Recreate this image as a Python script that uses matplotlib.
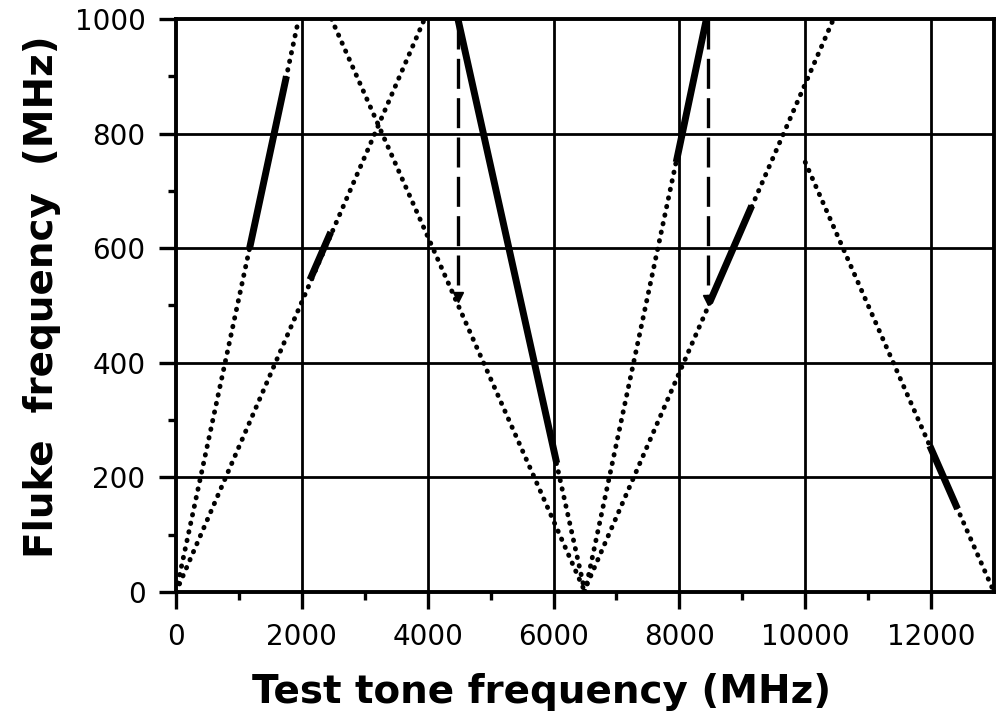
import numpy as np
import matplotlib
matplotlib.use("Agg")
import matplotlib.pyplot as plt

plt.rcParams['font.family'] = ['DejaVu Sans']

# -------------------------------
# Alias lines (dotted): endpoints
# -------------------------------
alias_x = [[0, 1950], [0, 3950], [2470, 6500], [4480, 6500],
           [6500, 8430], [6480, 10450], [10000, 13000]]
alias_y = [[0, 1000], [0, 1000], [1000, 0], [1000, 0],
           [0, 1000], [0, 1000], [750, 0]]

# -------------------------------
# Observed fluke segments (thick)
# -------------------------------
meas_x = [[1170, 1755], [2130, 2460], [4480, 6050],
          [7950, 8430], [8480, 9150], [11980, 12420]]
meas_y = [[600, 900], [545, 628], [1000, 225],
          [750, 1000], [505, 674], [255, 145]]

# -------------------------------
# Jumps (dashed verticals)
# -------------------------------
jump_x = [4480, 8450]
jump_top = [1000, 1000]
jump_bottom = [505, 500]

xticks = [0, 2000, 4000, 6000, 8000, 10000, 12000]
yticks = [0, 200, 400, 600, 800, 1000]

fig = plt.figure(figsize=(9.96, 7.27), dpi=100)
ax = fig.add_axes([0.1767, 0.1857, 0.8213, 0.7883])

# grid
for gx in xticks[1:]:
    ax.axvline(gx, color="black", lw=2.0, zorder=1)
for gy in yticks[1:-1]:
    ax.axhline(gy, color="black", lw=2.0, zorder=1)

for xs, ys in zip(alias_x, alias_y):
    ax.plot(xs, ys, color="black", lw=3.5, linestyle=(0, (0.1, 1.7)),
            dash_capstyle="round", zorder=2)

for xs, ys in zip(meas_x, meas_y):
    ax.plot(xs, ys, color="black", lw=5.0, solid_capstyle="butt", zorder=3)

for jx, jt, jb in zip(jump_x, jump_top, jump_bottom):
    ax.plot([jx, jx], [jt, jb + 12], color="black", lw=2.4,
            linestyle=(0, (9, 2.8)), zorder=3)
    ax.plot([jx], [jb + 10], marker="v", color="black", markersize=7, zorder=3)

ax.set_xlim(0, 13000)
ax.set_ylim(0, 1000)
ax.set_xticks(xticks)
ax.set_yticks(yticks)
ax.set_xticks(np.arange(1000, 13000, 2000), minor=True)
ax.set_yticks(np.arange(100, 1000, 200), minor=True)
ax.tick_params(which="major", direction="out", length=12, width=2.4,
               labelsize=20, pad=10)
ax.tick_params(which="minor", direction="out", length=6, width=2.4)
for s in ax.spines.values():
    s.set_linewidth(2.8)

ax.set_xlabel("Test tone frequency (MHz)", fontsize=28, fontweight="bold")
ax.set_ylabel("Fluke  frequency  (MHz)", fontsize=28, fontweight="bold")
ax.xaxis.set_label_coords(0.447, -0.142)
ax.yaxis.set_label_coords(-0.140, 0.515)

fig.savefig("out.png", dpi=100)
